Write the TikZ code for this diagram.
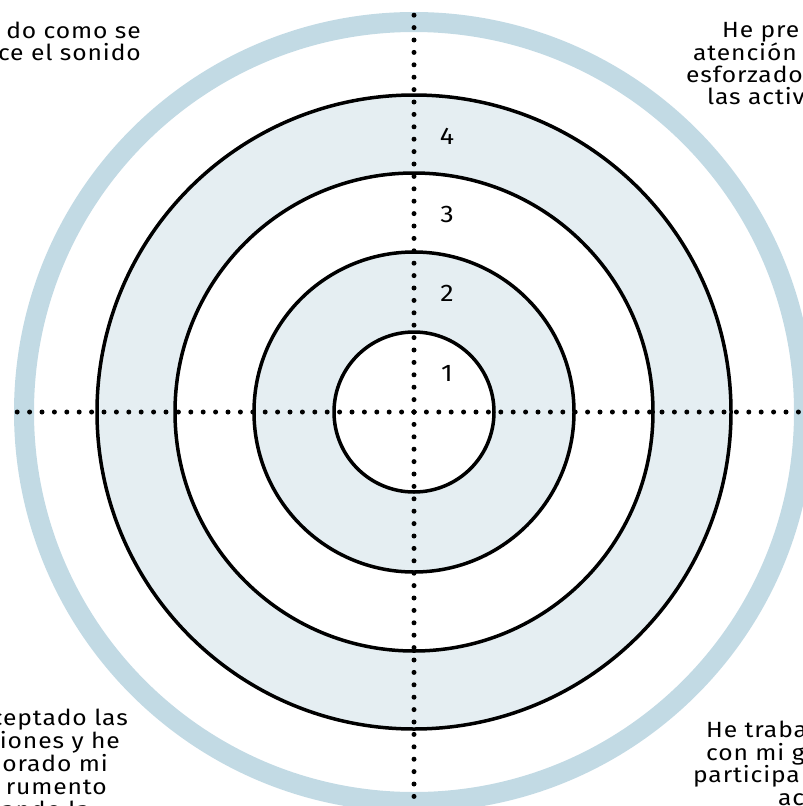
\documentclass[tikz,border=0pt]{standalone}
\usepackage{fontspec}
\setmainfont[FakeStretch=1.12, LetterSpace=4]{Fira Sans}
\usepackage{xcolor}
\definecolor{TargetFill}{RGB}{229,238,242}
\definecolor{RimBlue}{RGB}{194,218,228}
\usepackage{tikz}
\usetikzlibrary{positioning}

\begin{document}
\begin{tikzpicture}[
    x=1pt, y=-1pt,
    ringline/.style={draw=black, line width=3.5pt},
    dotline/.style={line width=5pt, line cap=round, dash pattern=on 0pt off 12.4pt},
    score/.style={inner sep=0pt, font=\fontsize{24}{24}\selectfont},
    lineleft/.style={inner sep=0pt, anchor=base west, font=\fontsize{22}{22}\selectfont},
    lineright/.style={inner sep=0pt, anchor=base east, font=\fontsize{22}{22}\selectfont}
]
\useasboundingbox (0,0) rectangle (803,806);

\coordinate (centre) at (414,412);
\coordinate (top) at (414,12);
\coordinate (bottom) at (414,812);
\coordinate (left) at (13,412);
\coordinate (right) at (815,412);

% Outer rim
\draw[RimBlue, line width=20pt] (centre) circle[radius=390pt];

% Rings, outside in
\fill[TargetFill] (centre) circle[radius=317pt];
\fill[white] (centre) circle[radius=239pt];
\fill[TargetFill] (centre) circle[radius=160pt];
\fill[white] (centre) circle[radius=80pt];
\foreach \r in {80,160,239,317}
    \draw[ringline] (centre) circle[radius=\r pt];

% Dotted axes
\draw[dotline] (centre) -- (top);
\draw[dotline] (centre) -- (bottom);
\draw[dotline] (centre) -- (left);
\draw[dotline] (centre) -- (right);

% Scores
\node[score] (s1) at (447,373) {1};
\node[score] (s2) at (447,293) {2};
\node[score] (s3) at (447,214) {3};
\node[score] (s4) at (447,136) {4};

% Corner texts
\node[lineright] (tl1) at (141,38) {do como se};
\node[lineright] (tl2) at (141,60) {ce el sonido};

\node[lineleft] (tr1) at (722,37) {He pre};
\node[lineleft] (tr2) at (693,60) {atención};
\node[lineleft] (tr3) at (686,82) {esforzado};
\node[lineleft] (tr4) at (707,104) {las activ};

\node[lineright] (bl1) at (128,725) {ceptado las};
\node[lineright] (bl2) at (120,748) {iones y he};
\node[lineright] (bl3) at (108,771) {orado mi};
\node[lineright] (bl4) at (107,794) {rumento};
\node[lineright] (bl5) at (90,817) {ando la};

\node[lineleft] (br1) at (706,737) {He traba};
\node[lineleft] (br2) at (706,760) {con mi g};
\node[lineleft] (br3) at (693,782) {participa};
\node[lineleft] (br4) at (778,805) {ac};
\end{tikzpicture}
\end{document}
